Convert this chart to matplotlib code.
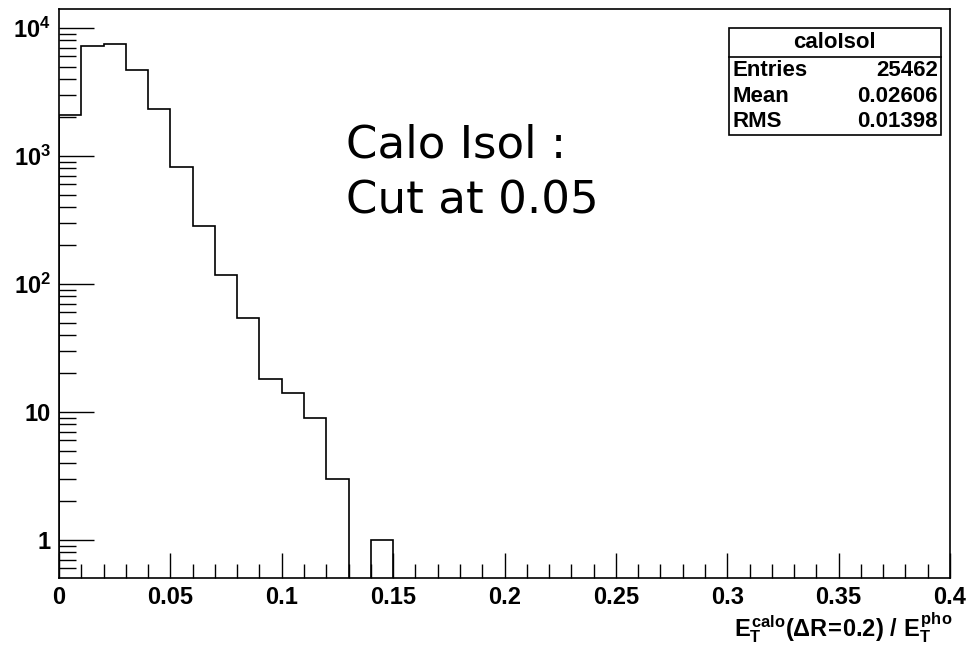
import matplotlib
matplotlib.use("Agg")
import matplotlib.pyplot as plt
import numpy as np
from matplotlib.patches import Rectangle
from matplotlib.ticker import FixedLocator, MultipleLocator, FuncFormatter

# histogram data (bin width 0.01, x range 0 - 0.4)
bin_edges = np.round(np.arange(0, 0.41, 0.01), 3)
counts = np.zeros(40)
counts[:15] = [2100, 7300, 7550, 4700, 2350, 820, 285, 118, 54, 18, 14, 9, 3, 0, 1]

stats_title = "caloIsol"
stats_names = ["Entries", "Mean", "RMS"]
stats_values = ["25462", "0.02606", "0.01398"]

plt.rcParams['font.family'] = ['Liberation Sans', 'DejaVu Sans']
plt.rcParams['mathtext.fontset'] = 'custom'
plt.rcParams['mathtext.rm'] = 'Liberation Sans:bold'
plt.rcParams['mathtext.it'] = 'Liberation Sans:bold'
plt.rcParams['mathtext.bf'] = 'Liberation Sans:bold'

W, H = 967, 660
fig = plt.figure(figsize=(9.67, 6.6), dpi=100)
ax = fig.add_axes([59 / W, 1 - 578 / H, (950 - 59) / W, (578 - 9.3) / H])

# zero bins drawn below the axis so the outline drops to the bottom
draw_counts = np.where(counts > 0, counts, 1e-3)
ax.stairs(draw_counts, bin_edges, baseline=1e-3, color='black', lw=1.2)

ax.set_yscale('log')
ax.set_xlim(0, 0.4)
ax.set_ylim(0.505, 14000)

# ticks in ROOT style
ax.xaxis.set_major_locator(MultipleLocator(0.05))
ax.xaxis.set_minor_locator(MultipleLocator(0.01))
ax.xaxis.set_major_formatter(FuncFormatter(lambda v, p: f"{v:g}"))
ax.yaxis.set_major_locator(FixedLocator([1, 10, 100, 1000, 10000]))


def ylab(v, p):
    if v == 1:
        return "1"
    if v == 10:
        return "10"
    return r"$10^{%d}$" % int(round(np.log10(v)))


ax.yaxis.set_major_formatter(FuncFormatter(ylab))
ax.tick_params(axis='both', which='both', direction='in', top=False, right=False)
ax.tick_params(axis='y', which='major', length=25, width=1, labelsize=17, pad=6)
ax.tick_params(axis='y', which='minor', length=12, width=1)
ax.tick_params(axis='x', which='major', length=18, width=1, labelsize=17, pad=6)
ax.tick_params(axis='x', which='minor', length=10, width=1)
for lab in ax.get_xticklabels() + ax.get_yticklabels():
    lab.set_fontweight('bold')
for sp in ax.spines.values():
    sp.set_linewidth(1.2)

# x axis title
fig.text(952 / W, 1 - 628 / H, r"$E_T^{calo}(\Delta R\!=\!0.2)\ /\ E_T^{pho}$",
         ha='right', va='center', fontsize=17)

# annotation
fig.text(346 / W, 1 - 158 / H, "Calo Isol :", fontsize=32.5, family='DejaVu Sans',
         va='baseline', ha='left')
fig.text(346 / W, 1 - 213 / H, "Cut at 0.05", fontsize=32.5, family='DejaVu Sans',
         va='baseline', ha='left')

# stats box
bx0, bx1 = 728.5 / W, 941 / W
by0, by1 = 1 - 135 / H, 1 - 27.8 / H
fig.patches.append(Rectangle((bx0, by0), bx1 - bx0, by1 - by0, transform=fig.transFigure,
                             fill=True, facecolor='white', edgecolor='black', lw=1.2))
sep = 1 - 56.7 / H
fig.add_artist(plt.Line2D([bx0, bx1], [sep, sep], transform=fig.transFigure,
                          color='black', lw=1.2))
fig.text((bx0 + bx1) / 2, 1 - 43 / H, stats_title, ha='center', va='center',
         fontsize=16, fontweight='bold')
row_y = [70.7, 96, 121.7]
for name, val, yy in zip(stats_names, stats_values, row_y):
    fig.text(733 / W, 1 - yy / H, name, ha='left', va='center', fontsize=16, fontweight='bold')
    fig.text(938 / W, 1 - yy / H, val, ha='right', va='center', fontsize=16, fontweight='bold')

fig.savefig("out.png", dpi=100)
